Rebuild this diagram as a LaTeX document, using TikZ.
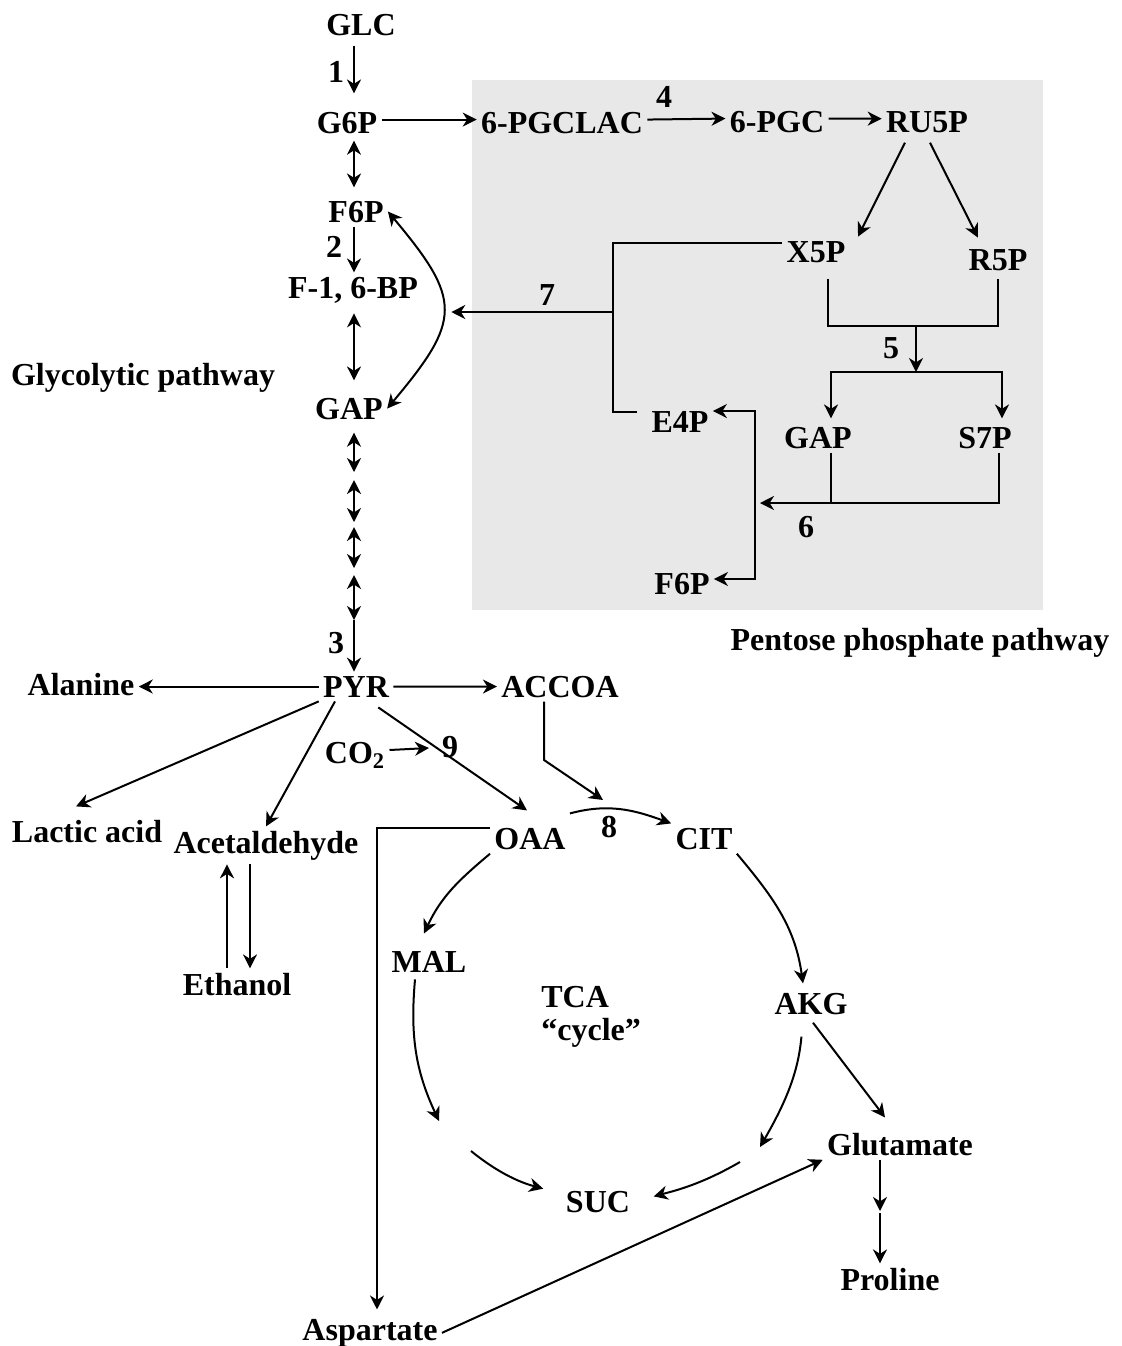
\documentclass[tikz,border=0pt]{standalone}
\usepackage{fontspec}
\setmainfont{Liberation Serif}
\usetikzlibrary{arrows.meta}

\begin{document}
\begin{tikzpicture}[
        x=0.5pt, y=0.5pt,
        >={Stealth[length=7pt, width=7pt, inset=2.2pt]},
        met/.style={font=\fontsize{16}{16.5}\selectfont\bfseries, inner sep=2pt, anchor=base},
        num/.style={met},
        pwlabel/.style={met},
        arr/.style={->, line width=1pt},
        dbl/.style={<->, line width=1pt},
        wire/.style={line width=1pt},
        ppbox/.style={fill=gray!18}
    ]
    \useasboundingbox (0,0) rectangle (1121,-1346);

    % Pentose phosphate background
    \fill[ppbox] (472,-80) rectangle (1043,-610);

    % Glycolysis
    \node[met] (glc) at (361,-35) {GLC};
    \node[met] (g6p) at (347,-133) {G6P};
    \node[met] (f6p) at (356,-222) {F6P};
    \node[met] (fbp) at (353,-298) {F-1, 6-BP};
    \node[met] (gap) at (349,-419) {GAP};
    \node[met] (pyr) at (356,-697) {PYR};
    \node[pwlabel] (glyco) at (143,-385) {Glycolytic pathway};

    % Pentose phosphate pathway
    \node[met] (pgclac) at (562,-133) {6-PGCLAC};
    \node[met] (pgc) at (777,-132) {6-PGC};
    \node[met] (ru5p) at (927,-132) {RU5P};
    \node[met] (x5p) at (816,-262) {X5P};
    \node[met] (r5p) at (998,-270) {R5P};
    \node[met] (e4p) at (680,-432) {E4P};
    \node[met] (gapb) at (818,-448) {GAP};
    \node[met] (s7p) at (985,-448) {S7P};
    \node[met] (f6pb) at (682,-594) {F6P};
    \node[pwlabel] (ppp) at (920,-650) {Pentose phosphate pathway};

    % Pyruvate branches
    \node[met] (alanine) at (81,-695) {Alanine};
    \node[met] (accoa) at (560,-697) {ACCOA};
    \node[met] (lactic) at (87,-842) {Lactic acid};
    \node[met] (acetald) at (266,-853) {Acetaldehyde};
    \node[met] (ethanol) at (237,-995) {Ethanol};
    \node[met] (co2) at (355,-763) {CO\textsubscript{2}};

    % TCA cycle
    \node[met] (oaa) at (530,-849) {OAA};
    \node[met] (cit) at (704,-849) {CIT};
    \node[met] (mal) at (429,-972) {MAL};
    \node[met] (akg) at (811,-1014) {AKG};
    \node[met] (suc) at (598,-1212) {SUC};
    \node[met] (glu) at (900,-1155) {Glutamate};
    \node[met] (pro) at (890,-1290) {Proline};
    \node[met] (asp) at (370,-1340) {Aspartate};
    \node[met, anchor=north west, inner sep=0pt, align=left] (tca) at (541,-986) {TCA\\``cycle''};

    % Reaction numbers
    \node[num] (n1) at (336,-82) {1};
    \node[num] (n2) at (334,-257) {2};
    \node[num] (n3) at (336,-653) {3};
    \node[num] (n4) at (664,-107) {4};
    \node[num] (n5) at (891,-358) {5};
    \node[num] (n6) at (806,-537) {6};
    \node[num] (n7) at (547,-305) {7};
    \node[num] (n8) at (609,-837) {8};
    \node[num] (n9) at (450,-757) {9};

    % Junctions
    \coordinate (ax) at (354,0);
    \coordinate (g1) at (354,-476);
    \coordinate (g2) at (354,-524);
    \coordinate (g3) at (354,-572);
    \coordinate (g4) at (354,-620);
    \coordinate (t7) at (613,-243);
    \coordinate (j7) at (613,-312);
    \coordinate (b7) at (613,-412);
    \coordinate (m5) at (916,-326);
    \coordinate (s5) at (916,-372);
    \coordinate (v6) at (755,-503);
    \coordinate (v6top) at (755,-411);
    \coordinate (v6bot) at (755,-579);
    \coordinate (c9) at (429,-748);
    \coordinate (a8) at (544,-760);
    \coordinate (c8) at (603,-800);
    \coordinate (k1) at (439,-1121);
    \coordinate (k2) at (471,-1151);
    \coordinate (k3) at (760,-1147);
    \coordinate (k4) at (740,-1162);
    \coordinate (k5) at (880,-1211);

    % Glycolysis arrows
    \draw[arr, shorten <=3pt, shorten >=7pt] (glc.south -| ax) -- (g6p.north -| ax);
    \draw[dbl, shorten <=1.5pt, shorten >=4.5pt] (g6p.south -| ax) -- (f6p.north -| ax);
    \draw[arr] (f6p.south -| ax) -- (fbp.north -| ax);
    \draw[dbl, shorten <=3pt, shorten >=6.5pt] (fbp.south -| ax) -- (gap.north -| ax);
    \draw[dbl, shorten <=4.5pt, shorten >=2pt] (gap.south -| ax) -- (g1);
    \draw[dbl, shorten <=2pt, shorten >=1pt] (g1) -- (g2);
    \draw[dbl, shorten <=1.5pt, shorten >=2pt] (g2) -- (g3);
    \draw[dbl, shorten <=1.5pt] (g3) -- (g4);
    \draw[arr] (g4) -- (pyr.north -| ax);
    \draw[dbl] (f6p.east) to[out=-50, in=50, looseness=1.5] (gap.east);

    % Pentose phosphate arrows
    \draw[arr] ([yshift=1.5pt]g6p.east) -- ([yshift=1.5pt]pgclac.west);
    \draw[arr] ([yshift=1.5pt]pgclac.east) -- ([yshift=1.5pt]pgc.west);
    \draw[arr] ([yshift=1.5pt]pgc.east) -- ([yshift=1.5pt]ru5p.west);
    \draw[arr] ([xshift=-11pt,yshift=-3pt]ru5p.south) -- ([xshift=21pt]x5p.north);
    \draw[arr] ([xshift=1.5pt,yshift=-3pt]ru5p.south) -- ([xshift=-10pt,yshift=3.5pt]r5p.north);
    \draw[wire, shorten >=5pt] (x5p.west |- t7) -- (t7) -- (b7) -- (e4p.west |- b7);
    \draw[arr, shorten >=14.5pt] (j7) -- (fbp.east |- j7);
    \draw[wire] ([xshift=6pt,yshift=-6pt]x5p.south) |- (m5) -| ([yshift=-2pt]r5p.south);
    \draw[arr] (m5) -- (s5);
    \draw[arr] (s5) -| ([xshift=6.5pt,yshift=2pt]gapb.north);
    \draw[arr] (s5) -| ([xshift=8.5pt,yshift=2pt]s7p.north);
    \draw[wire] ([xshift=6.5pt]gapb.south) -- ([xshift=6.5pt]gapb.south |- v6);
    \draw[arr, shorten >=2.5pt] ([xshift=7pt]s7p.south) |- (v6);
    \draw[dbl] (e4p.east |- v6top) -- (v6top) -- (v6bot) -- (f6pb.east |- v6bot);

    % Pyruvate arrows
    \draw[arr] (pyr.west) -- (alanine.east |- pyr.west);
    \draw[arr] (pyr.east) -- (accoa.west);
    \draw[arr] (pyr.south west) -- ([xshift=-5.5pt,yshift=4.5pt]lactic.north);
    \draw[arr] ([xshift=-10.5pt]pyr.south) -- (acetald.north);
    \draw[arr] ([xshift=-7.5pt,yshift=-3pt]pyr.south east) -- ([xshift=-1.5pt,yshift=6.5pt]oaa.north);
    \draw[arr] ([yshift=2.5pt]co2.east) -- (c9);
    \draw[arr] ([xshift=-8pt]accoa.south) -- (a8) -- (c8);
    \draw[arr] ([xshift=-5pt]ethanol.north) -- ([xshift=-19.5pt]acetald.south);
    \draw[arr] ([xshift=-8pt]acetald.south) -- ([xshift=6.5pt]ethanol.north);

    % TCA arrows
    \draw[arr] ([yshift=5pt]oaa.north east) to[out=15, in=160] (cit.north west);
    \draw[arr] ([yshift=5.5pt]oaa.west) -| ([xshift=3.5pt,yshift=2.5pt]asp.north);
    \draw[arr] (asp.east) -- (glu.south west);
    \draw[arr] (oaa.south west) to[out=-140, in=65] ([xshift=-2.5pt,yshift=6.5pt]mal.north);
    \draw[arr] ([xshift=-7pt,yshift=-1.5pt]mal.south) to[out=-95, in=115] (k1);
    \draw[arr, shorten >=9.5pt] (k2) to[out=-39, in=165] ([yshift=4pt]suc.west);
    \draw[arr] (cit.south east) to[out=-50, in=98] ([xshift=-4pt,yshift=2.5pt]akg.north);
    \draw[arr, shorten <=9pt] ([xshift=-4pt]akg.south) to[out=-95, in=60] (k3);
    \draw[arr, shorten >=10pt] (k4) to[out=-150, in=15] (suc.east);
    \draw[arr] ([xshift=1pt,yshift=-2pt]akg.south) -- ([xshift=-7.5pt,yshift=5.5pt]glu.north);
    \draw[arr] ([xshift=-10pt]glu.south) -- (k5);
    \draw[arr, shorten <=1pt] (k5) -- ([xshift=-5pt]pro.north);

\end{tikzpicture}
\end{document}
